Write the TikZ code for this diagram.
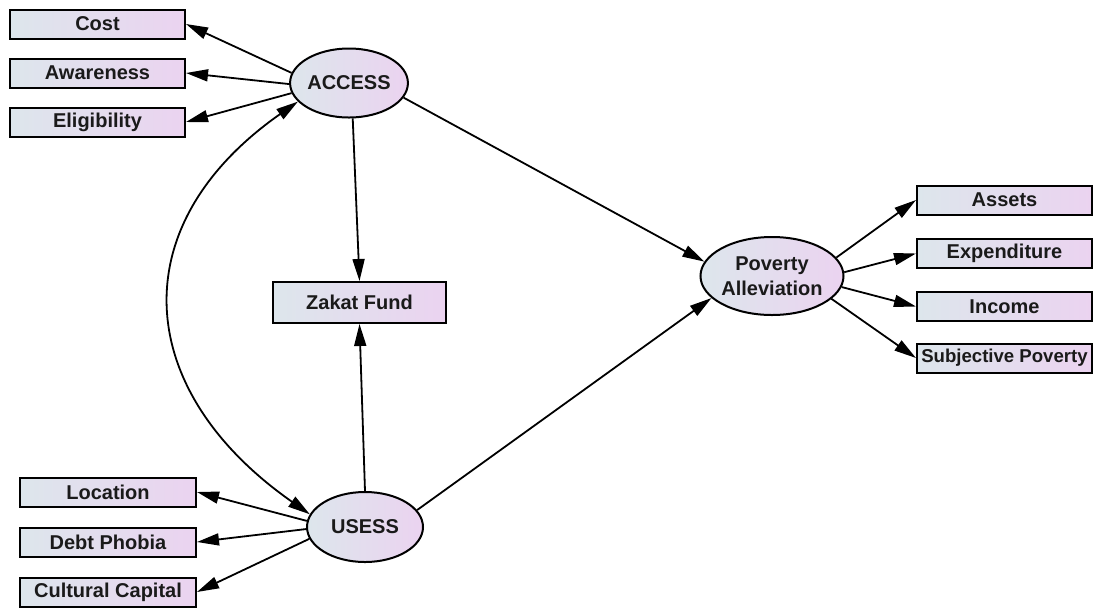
\documentclass[tikz,border=0pt]{standalone}
\usepackage{fontspec}
\setmainfont{Liberation Sans}
\usetikzlibrary{arrows.meta,shapes.geometric}
\definecolor{shadeleft}{HTML}{DDE6EC}
\definecolor{shaderight}{HTML}{EBD3F0}
\definecolor{ink}{HTML}{1A1A1A}

\begin{document}
\begin{tikzpicture}[x=0.5pt, y=-0.5pt, >={Triangle[length=11pt,width=6pt]},
    obs/.style={draw, line width=1pt, left color=shadeleft, right color=shaderight,
      minimum width=87.5pt, minimum height=14.5pt, inner sep=0pt,
      font=\bfseries\fontsize{10}{12.5}\selectfont, text=ink},
    lat/.style={ellipse, draw, line width=1pt, left color=shadeleft, right color=shaderight,
      inner sep=0pt, align=center, font=\bfseries\fontsize{10}{12.5}\selectfont, text=ink},
    link/.style={->, line width=0.9pt}]
    \useasboundingbox (0,0) rectangle (1094,607);

    % latent variables
    \node[lat, minimum width=57.5pt, minimum height=34.5pt] (access) at (349,83) {ACCESS};
    \node[lat, minimum width=58pt, minimum height=35pt] (usess) at (365,527) {USESS};
    \node[lat, minimum width=69.5pt, minimum height=39pt] (pov) at (772,276) {Poverty\\Alleviation};
    \node[obs, minimum width=86.5pt, minimum height=20.5pt] (zakat) at (359.5,302.5) {Zakat Fund};

    % indicators
    \node[obs] (cost) at (97.5,24) {Cost};
    \node[obs] (aware) at (97.5,73) {Awareness};
    \node[obs] (elig) at (97.5,122) {Eligibility};
    \node[obs, minimum width=88pt] (loc) at (108,492) {Location};
    \node[obs, minimum width=88pt] (debt) at (108,542) {Debt Phobia};
    \node[obs, minimum width=88pt] (cult) at (108,592) {Cultural Capital};
    \node[obs] (assets) at (1004.5,200) {Assets};
    \node[obs] (expend) at (1004.5,253.5) {Expenditure};
    \node[obs] (income) at (1004.5,306.5) {Income};
    \node[obs, font=\bfseries\fontsize{9.3}{12}\selectfont] (subj) at (1004.5,358) {Subjective Poverty};

    \draw[link] (access.170) -- (cost.east);
    \draw[link] (access.181) -- (aware.east);
    \draw[link] (access.190) -- (elig.east);
    \draw[link] (usess.174) -- (loc.east);
    \draw[link] (usess.182) -- (debt.east);
    \draw[link] (usess.192) -- (cult.east);
    \draw[link] (pov.16) -- (assets.west);
    \draw[link] (pov.3) -- (expend.west);
    \draw[link] (pov.-9) -- (income.west);
    \draw[link] (pov.-21) -- (subj.west);

    \draw[link] (access.-84) -- (zakat.north);
    \draw[link] (usess.north) -- (zakat.south);
    \draw[link] (access.-15) -- (pov.168);
    \draw[link] (usess.18) -- (pov.200);

    \draw[<->, line width=0.9pt] (access.200) .. controls +(-177,124) and +(-177,-124) .. (usess.167);
  \end{tikzpicture}
\end{document}
